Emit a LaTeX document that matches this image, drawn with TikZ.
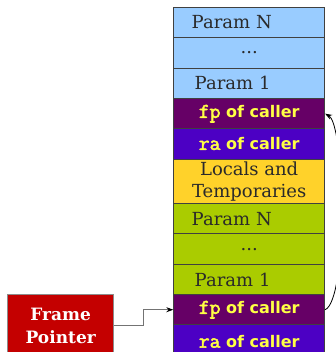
\documentclass[tikz,border=0pt]{standalone}
\usepackage{fontspec}
\setmainfont{DejaVu Serif}
\setsansfont{DejaVu Sans}
\newfontfamily\regfont{Latin Modern Mono}[FakeBold=2.5]
\usetikzlibrary{arrows.meta}
\definecolor{lblue}{HTML}{99CCFF}
\definecolor{fpcol}{HTML}{660066}
\definecolor{racol}{HTML}{4C00C4}
\definecolor{gold}{HTML}{FFD22A}
\definecolor{lgreen}{HTML}{AACC00}
\definecolor{txtyel}{HTML}{FFFF44}
\definecolor{fpred}{HTML}{C40000}
\definecolor{txtgray}{HTML}{2A2A2A}
\tikzset{
  cell/.style={draw=black!75, line width=0.8pt, anchor=north west, minimum width=151pt,
    inner sep=0pt, font=\fontsize{18}{22.6}\selectfont, text=txtgray},
  paramcell/.style={cell, text width=151pt, align=left},
  callcell/.style={cell, text=txtyel, font=\fontsize{16}{21}\selectfont\sffamily\bfseries},
  link/.style={draw=black!55, line width=1pt, -{Stealth[length=7pt,width=5pt,black]}},
}
\newcommand{\callertxt}[1]{{\fontsize{21}{21}\selectfont\regfont #1} of caller}
\begin{document}
\begin{tikzpicture}[x=1pt,y=-1pt]
\useasboundingbox (0,0) rectangle (335,352);
\node[paramcell, fill=lblue, minimum height=30.3pt] (pn1) at (173.3,7) {\hspace*{18pt}Param N};
\node[cell, fill=lblue, minimum height=30.3pt] (dots1) at (173.3,37.3) {...};
\node[paramcell, fill=lblue, minimum height=30.7pt] (p11) at (173.3,67.6) {\hspace*{21pt}Param 1};
\node[callcell, fill=fpcol, minimum height=30pt] (fp1) at (173.3,98.3) {\callertxt{fp}};
\node[callcell, fill=racol, minimum height=30.4pt] (ra1) at (173.3,128.3) {\callertxt{ra}};
\node[cell, fill=gold, minimum height=44.6pt, align=center] (loc) at (173.3,158.7) {Locals and\\Temporaries};
\node[paramcell, fill=lgreen, minimum height=30pt] (pn2) at (173.3,203.3) {\hspace*{18pt}Param N};
\node[cell, fill=lgreen, minimum height=31pt] (dots2) at (173.3,233.3) {...};
\node[paramcell, fill=lgreen, minimum height=30pt] (p12) at (173.3,264.3) {\hspace*{21pt}Param 1};
\node[callcell, fill=fpcol, minimum height=30pt] (fp2) at (173.3,294.3) {\callertxt{fp}};
\node[callcell, fill=racol, minimum height=34pt] (ra2) at (173.3,324.3) {\callertxt{ra}};
\node[draw=black!45, line width=0.8pt, fill=fpred, text=white, anchor=north west,
  minimum width=106pt, minimum height=63pt, inner sep=0pt, align=center,
  font=\fontsize{17}{23}\selectfont\bfseries] (fptr) at (7.3,294) {Frame\\Pointer};
\coordinate (bend) at (143,0);
\draw[link] (fptr.east) -- (bend |- fptr.east) -- (bend |- fp2.west) -- (fp2.west);
\draw[line width=0.8pt, -{Stealth[length=7pt,width=5pt]}] (fp2.east) .. controls (348,300) and (345,125) .. (fp1.east);
\end{tikzpicture}
\end{document}
